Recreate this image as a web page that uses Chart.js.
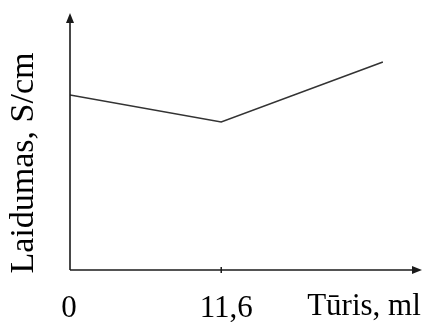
<!DOCTYPE html>
<html>
<head>
<meta charset="utf-8">
<script src="https://cdn.jsdelivr.net/npm/chart.js@4/dist/chart.umd.min.js"></script>
<style>
  body { margin: 0; background: #fff; }
  #wrap { width: 425px; height: 322px; position: relative; }
</style>
</head>
<body>
<div id="wrap"><canvas id="chart"></canvas></div>
<script>
// volume (ml) and conductivity (arbitrary units)
const volumes = [0, 11.6, 24]
const conductivity = [6.81, 5.76, 8.09]
const tickValues = [0, 11.6]
const tickLabels = ['0', '11,6']
const xTitle = 'Tūris, ml'
const yTitle = 'Laidumas, S/cm'

const FONT = '31px "Liberation Serif"'
const Y_FONT = '34px "Liberation Serif"'
const AXIS_COLOR = '#1a1a1a'

// draws the arrowed axes, the tick mark and all the texts
const axesPlugin = {
  id: 'arrowAxes',
  afterDraw(chart) {
    const ctx = chart.ctx
    const area = chart.chartArea
    const xs = chart.scales.x
    const left = area.left, bottom = area.bottom

    ctx.save()
    ctx.strokeStyle = AXIS_COLOR
    ctx.fillStyle = AXIS_COLOR
    ctx.lineWidth = 1.6

    // y axis
    ctx.beginPath()
    ctx.moveTo(left, bottom)
    ctx.lineTo(left, area.top + 8)
    ctx.stroke()
    ctx.beginPath()
    ctx.moveTo(left, area.top)
    ctx.lineTo(left - 4, area.top + 10)
    ctx.lineTo(left + 4, area.top + 10)
    ctx.closePath()
    ctx.fill()

    // x axis
    ctx.beginPath()
    ctx.moveTo(left, bottom)
    ctx.lineTo(area.right - 8, bottom)
    ctx.stroke()
    ctx.beginPath()
    ctx.moveTo(area.right, bottom)
    ctx.lineTo(area.right - 10, bottom - 4)
    ctx.lineTo(area.right - 10, bottom + 4)
    ctx.closePath()
    ctx.fill()

    // tick marks (skip the one on the origin)
    ctx.lineWidth = 1.5
    tickValues.forEach((v) => {
      if (v === 0) return
      const px = xs.getPixelForValue(v)
      ctx.beginPath()
      ctx.moveTo(px, bottom - 3)
      ctx.lineTo(px, bottom + 3)
      ctx.stroke()
    })

    // tick labels, a bit below the axis like the original
    ctx.font = FONT
    ctx.fillStyle = '#000'
    ctx.textAlign = 'center'
    ctx.textBaseline = 'alphabetic'
    tickValues.forEach((v, i) => {
      const dx = v === 0 ? -1 : 5
      ctx.fillText(tickLabels[i], xs.getPixelForValue(v) + dx, bottom + 47)
    })

    // axis titles
    ctx.fillText(xTitle, 364, bottom + 45)
    ctx.save()
    ctx.font = Y_FONT
    ctx.translate(33, 163)
    ctx.rotate(-Math.PI / 2)
    ctx.fillText(yTitle, 0, 0)
    ctx.restore()

    ctx.restore()
  }
}

function draw() {
  new Chart(document.getElementById('chart'), {
    type: 'line',
    data: {
      datasets: [{
        data: volumes.map((v, i) => ({ x: v, y: conductivity[i] })),
        borderColor: '#333',
        borderWidth: 1.6,
        pointRadius: 0,
        tension: 0,
        fill: false
      }]
    },
    options: {
      responsive: true,
      maintainAspectRatio: false,
      animation: false,
      layout: { padding: { left: 70, right: 3, top: 13, bottom: 52 } },
      plugins: { legend: { display: false }, tooltip: { enabled: false } },
      scales: {
        x: { type: 'linear', min: 0, max: 27, display: false },
        y: { min: 0, max: 10, display: false }
      }
    },
    plugins: [axesPlugin]
  })
}

// make sure the serif font is ready before the canvas draws text
document.fonts.load(FONT).then(draw, draw)
</script>
</body>
</html>
